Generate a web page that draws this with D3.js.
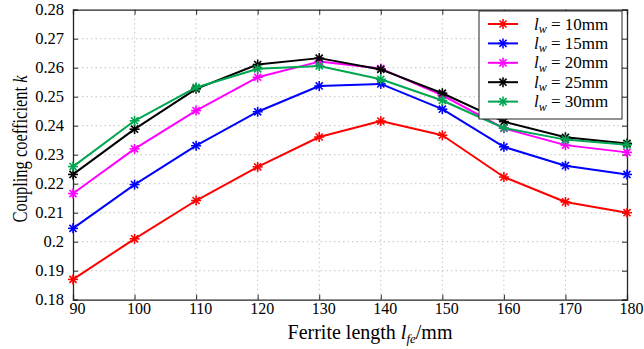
<!DOCTYPE html>
<html>
<head>
<meta charset="utf-8">
<script src="https://cdn.jsdelivr.net/npm/d3@7"></script>
<style>
  html, body { margin: 0; padding: 0; background: #fff; }
  svg { display: block; font-family: "Liberation Serif", "Times New Roman", serif; }
</style>
</head>
<body>
<svg id="chart" width="644" height="349"></svg>
<script>
// Ferrite length (mm)
const ferriteLength = [90, 100, 110, 120, 130, 140, 150, 160, 170, 180];

// Coupling coefficient k for each winding width l_w
const kLw10 = [0.1870, 0.2010, 0.2142, 0.2258, 0.2361, 0.2416, 0.2367, 0.2223, 0.2137, 0.2100];
const kLw15 = [0.2046, 0.2197, 0.2331, 0.2448, 0.2537, 0.2544, 0.2457, 0.2327, 0.2262, 0.2232];
const kLw20 = [0.2166, 0.2320, 0.2452, 0.2567, 0.2621, 0.2597, 0.2505, 0.2391, 0.2333, 0.2308];
const kLw25 = [0.2232, 0.2388, 0.2527, 0.2611, 0.2633, 0.2594, 0.2512, 0.2414, 0.2360, 0.2339];
const kLw30 = [0.2259, 0.2417, 0.2532, 0.2596, 0.2606, 0.2560, 0.2487, 0.2392, 0.2352, 0.2334];

const seriesNames = ["10mm", "15mm", "20mm", "25mm", "30mm"];
const seriesValues = [kLw10, kLw15, kLw20, kLw25, kLw30];
const seriesColors = ["#ff0000", "#0000ff", "#ff00ff", "#000000", "#00a651"];

const xTicks = [90, 100, 110, 120, 130, 140, 150, 160, 170, 180];
const yTicks = [0.18, 0.19, 0.20, 0.21, 0.22, 0.23, 0.24, 0.25, 0.26, 0.27, 0.28];
const yTickLabels = ["0.18", "0.19", "0.2", "0.21", "0.22", "0.23", "0.24", "0.25", "0.26", "0.27", "0.28"];

const svg = d3.select("#chart");
const plot = { left: 73, right: 627, top: 9.7, bottom: 299.7 };

const x = d3.scaleLinear().domain([90, 180]).range([plot.left, plot.right]);
const y = d3.scaleLinear().domain([0.18, 0.28]).range([plot.bottom, plot.top]);

// Dotted grid
const grid = svg.append("g").attr("stroke", "#c4c4c4").attr("stroke-width", 1)
  .attr("stroke-dasharray", "1.5,3");
grid.selectAll("line.gx").data(xTicks.slice(1, -1)).join("line")
  .attr("x1", d => x(d)).attr("x2", d => x(d))
  .attr("y1", plot.top).attr("y2", plot.bottom);
grid.selectAll("line.gy").data(yTicks.slice(1, -1)).join("line")
  .attr("x1", plot.left).attr("x2", plot.right)
  .attr("y1", d => y(d)).attr("y2", d => y(d));

// Axes with inward ticks on all four sides
const tickLen = 5;
const axisBottom = svg.append("g").attr("transform", `translate(0,${plot.bottom})`)
  .call(d3.axisBottom(x).tickValues(xTicks).tickSize(-tickLen).tickPadding(3)
    .tickFormat(d3.format("d")));
const axisTop = svg.append("g").attr("transform", `translate(0,${plot.top})`)
  .call(d3.axisTop(x).tickValues(xTicks).tickSize(-tickLen).tickFormat(""));
const axisLeft = svg.append("g").attr("transform", `translate(${plot.left},0)`)
  .call(d3.axisLeft(y).tickValues(yTicks).tickSize(-tickLen).tickPadding(9)
    .tickFormat((d, i) => yTickLabels[i]));
const axisRight = svg.append("g").attr("transform", `translate(${plot.right},0)`)
  .call(d3.axisRight(y).tickValues(yTicks).tickSize(-tickLen).tickFormat(""));

[axisBottom, axisTop, axisLeft, axisRight].forEach(g => {
  g.select(".domain").attr("stroke", "#262626").attr("stroke-width", 1.3);
  g.selectAll(".tick line").attr("stroke", "#262626").attr("stroke-width", 1);
  g.selectAll("text").attr("fill", "#000").style("font-size", "16.5px")
    .style("font-family", "Liberation Serif, Times New Roman, serif");
});
axisBottom.selectAll("text").style("font-size", "16px").attr("dx", 4);

// Asterisk marker: plus and cross combined
const starR = 5;
function drawStar(g, cx, cy, color) {
  const s = g.append("g").attr("transform", `translate(${cx},${cy})`)
    .attr("stroke", color).attr("stroke-width", 1.6);
  const d = starR * Math.SQRT1_2;
  s.append("line").attr("x1", -starR).attr("x2", starR).attr("y1", 0).attr("y2", 0);
  s.append("line").attr("x1", 0).attr("x2", 0).attr("y1", -starR).attr("y2", starR);
  s.append("line").attr("x1", -d).attr("x2", d).attr("y1", -d).attr("y2", d);
  s.append("line").attr("x1", -d).attr("x2", d).attr("y1", d).attr("y2", -d);
}

// Series lines and markers
const line = d3.line().x((d, i) => x(ferriteLength[i])).y(d => y(d));
seriesValues.forEach((vals, si) => {
  const g = svg.append("g");
  g.append("path").datum(vals).attr("d", line)
    .attr("fill", "none").attr("stroke", seriesColors[si]).attr("stroke-width", 2)
    .attr("stroke-linejoin", "round");
  vals.forEach((v, i) => drawStar(g, x(ferriteLength[i]), y(v), seriesColors[si]));
});

// Legend
const legend = svg.append("g");
legend.append("rect").attr("x", 479).attr("y", 11).attr("width", 143).attr("height", 108)
  .attr("fill", "#fff").attr("stroke", "#262626").attr("stroke-width", 1);
seriesNames.forEach((name, i) => {
  const ly = 24 + i * 19.4;
  const c = seriesColors[i];
  legend.append("line").attr("x1", 488).attr("x2", 518).attr("y1", ly).attr("y2", ly)
    .attr("stroke", c).attr("stroke-width", 2);
  drawStar(legend, 503, ly, c);
  const t = legend.append("text").attr("x", 534).attr("y", ly + 5.5)
    .style("font-size", "17px").attr("fill", "#000");
  t.append("tspan").style("font-style", "italic").text("l");
  t.append("tspan").style("font-style", "italic").style("font-size", "12px")
    .attr("dy", 3.5).text("w");
  t.append("tspan").attr("dy", -3.5).text(" = " + name);
});

// Axis titles
const xt = svg.append("text").attr("x", 370).attr("y", 339).attr("text-anchor", "middle")
  .style("font-size", "20px").attr("fill", "#000");
xt.append("tspan").text("Ferrite length ");
xt.append("tspan").style("font-style", "italic").text("l");
xt.append("tspan").style("font-style", "italic").style("font-size", "13px").attr("dy", 4).text("fe");
xt.append("tspan").attr("dy", -4).text("/mm");

const yt = svg.append("text").attr("transform", "translate(27,149) scale(1.25,1) rotate(-90)")
  .attr("text-anchor", "middle").style("font-size", "16.5px").attr("fill", "#000");
yt.append("tspan").text("Coupling coefficient ");
yt.append("tspan").style("font-style", "italic").text("k");
</script>
</body>
</html>
